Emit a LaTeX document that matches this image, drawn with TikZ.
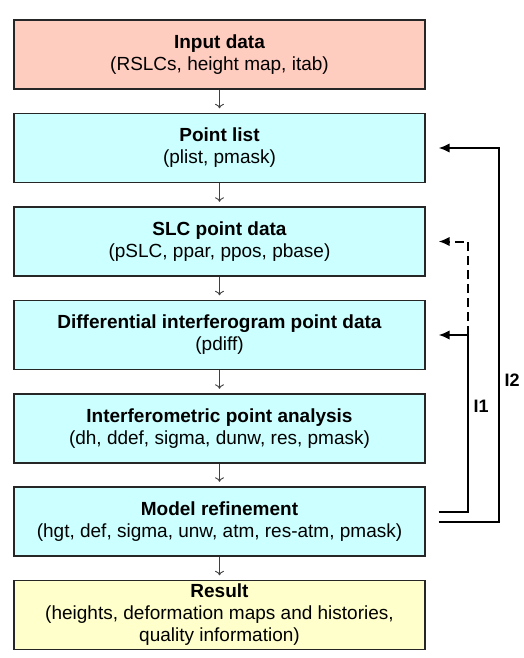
\documentclass[tikz,border=0pt]{standalone}
\usepackage{fontspec}
\setmainfont{Liberation Sans}
\usetikzlibrary{arrows.meta,calc}
\definecolor{inred}{RGB}{255,204,192}
\definecolor{stepcyan}{RGB}{204,255,255}
\definecolor{outyellow}{RGB}{255,255,204}
\begin{document}
\begin{tikzpicture}[x=1pt,y=-1pt,
  box/.style={draw=black!85, line width=1.3pt, minimum width=411pt, minimum height=69pt,
    inner sep=0pt, align=center, font=\fontsize{19}{22}\selectfont},
  down/.style={draw=black!75, line width=0.9pt, -{To[length=4.5pt,width=9pt]}, shorten >=4.5pt},
  fb/.style={line width=2pt, -{Latex[length=11pt,width=9.5pt]}},
  lbl/.style={font=\fontsize{18}{18}\selectfont\bfseries}
]
\useasboundingbox (0,0) rectangle (523,658);

% processing chain
\node[box, fill=inred]      (input) at (219.5,54.5)  {\textbf{Input data}\\(RSLCs, height map, itab)};
\node[box, fill=stepcyan]   (plist) at (219.5,148)   {\textbf{Point list}\\(plist, pmask)};
\node[box, fill=stepcyan]   (slc)   at (219.5,241.5) {\textbf{SLC point data}\\(pSLC, ppar, ppos, pbase)};
\node[box, fill=stepcyan]   (diff)  at (219.5,335)   {\textbf{Differential interferogram point data}\\(pdiff)};
\node[box, fill=stepcyan]   (ipta)  at (219.5,428.5) {\textbf{Interferometric point analysis}\\(dh, ddef, sigma, dunw, res, pmask)};
\node[box, fill=stepcyan]   (model) at (219.5,521.5) {\textbf{Model refinement}\\(hgt, def, sigma, unw, atm, res-atm, pmask)};
\node[box, fill=outyellow]  (res)   at (219.5,615)   {\textbf{Result}\\(heights, deformation maps and histories,\\quality information)};

\draw[down] (input) -- (plist);
\draw[down] (plist) -- (slc);
\draw[down] (slc) -- (diff);
\draw[down] (diff) -- (ipta);
\draw[down] (ipta) -- (model);
\draw[down] (model) -- (res);

% iteration loops
\coordinate (i1x) at (468,0);
\coordinate (i2x) at (499,0);
\coordinate (m2) at ([xshift=13pt]model.east);
\coordinate (m1) at ([xshift=13pt,yshift=9.5pt]model.east);
\coordinate (p2) at ([xshift=13pt]plist.east);
\coordinate (s1) at ([xshift=13pt]slc.east);
\coordinate (d1) at ([xshift=13pt]diff.east);

\draw[fb] (m2) -- (m2 -| i2x) -- (p2 -| i2x) -- (p2);
\draw[fb] (m1) -- (m1 -| i1x) -- (d1 -| i1x) -- (d1);
\draw[fb, dash pattern=on 9pt off 5pt] (d1 -| i1x) -- (s1 -| i1x) -- (s1);

\node[lbl] (l2) at (512,380) {I2};
\node[lbl] (l1) at (481,406) {I1};
\end{tikzpicture}
\end{document}
